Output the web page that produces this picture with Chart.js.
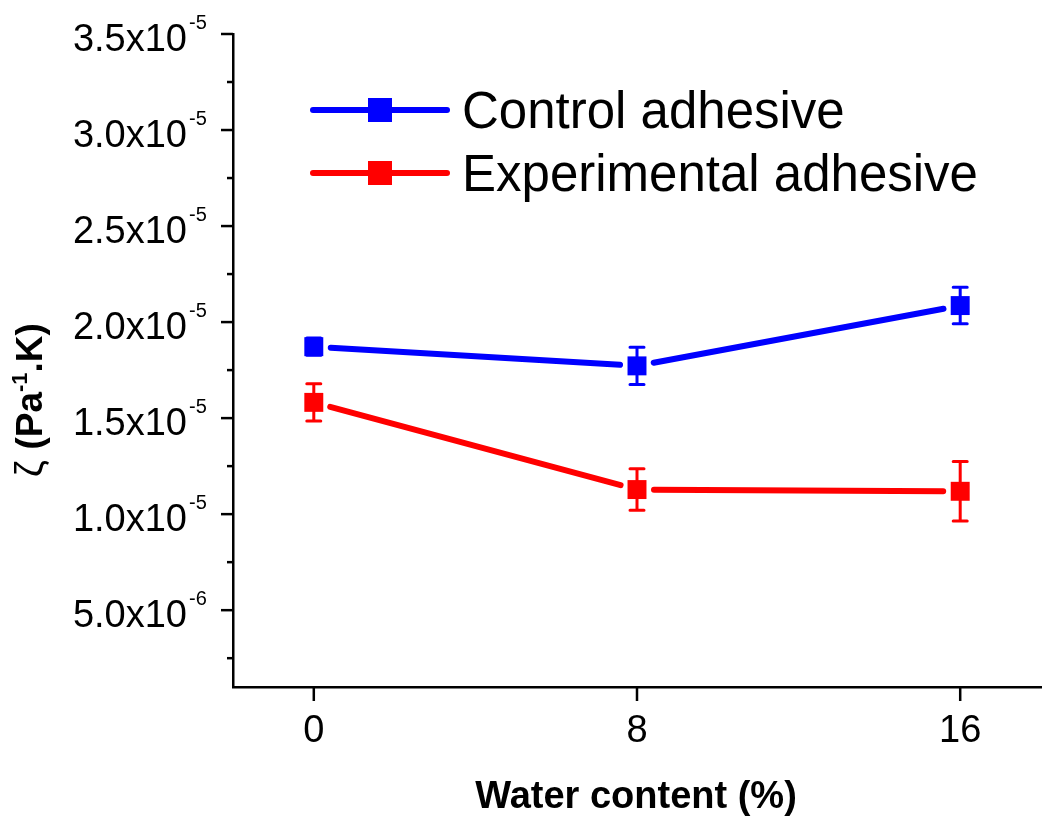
<!DOCTYPE html>
<html>
<head>
<meta charset="utf-8">
<script src="https://cdn.jsdelivr.net/npm/chart.js"></script>
<style>
  body { margin: 0; background: #fff; }
</style>
</head>
<body>
<canvas id="zetaChart" width="1050" height="832"></canvas>
<script>
  // values
  const waterContent = [0, 8, 16];
  const controlZeta = [1.872e-5, 1.772e-5, 2.086e-5];
  const controlErr = [0.045e-5, 0.097e-5, 0.095e-5];
  const experimentalZeta = [1.582e-5, 1.128e-5, 1.119e-5];
  const experimentalErr = [0.097e-5, 0.108e-5, 0.155e-5];
  const seriesNames = ['Control adhesive', 'Experimental adhesive'];
  const seriesColors = ['#0000ff', '#ff0000'];

  // axis ticks
  const xTicks = [0, 8, 16];
  const xTickLabels = ['0', '8', '16'];
  const yTicks = [5e-6, 1e-5, 1.5e-5, 2e-5, 2.5e-5, 3e-5, 3.5e-5];
  const yTickMantissa = ['5.0', '1.0', '1.5', '2.0', '2.5', '3.0', '3.5'];
  const yTickExponent = ['-6', '-5', '-5', '-5', '-5', '-5', '-5'];
  const yMinorTicks = [2.5e-6, 7.5e-6, 1.25e-5, 1.75e-5, 2.25e-5, 2.75e-5, 3.25e-5];

  const errorBars = [controlErr, experimentalErr];
  const FONT = '"Liberation Sans", Arial, sans-serif';

  function toPoints(ys) {
    return waterContent.map((w, i) => ({ x: w, y: ys[i] }));
  }

  // Origin-like look: gapped lines, error bars, ticks, labels, legend
  const originStyle = {
    id: 'originStyle',
    beforeDatasetsDraw(chart) {
      const ctx = chart.ctx;
      const xs = chart.scales.x, ys = chart.scales.y;
      chart.data.datasets.forEach((ds, d) => {
        ctx.save();
        ctx.strokeStyle = ds.borderColor;
        ctx.lineCap = 'round';
        ctx.lineWidth = 6;
        for (let i = 0; i < ds.data.length - 1; i++) {
          const x1 = xs.getPixelForValue(ds.data[i].x), y1 = ys.getPixelForValue(ds.data[i].y);
          const x2 = xs.getPixelForValue(ds.data[i + 1].x), y2 = ys.getPixelForValue(ds.data[i + 1].y);
          const len = Math.hypot(x2 - x1, y2 - y1);
          const ux = (x2 - x1) / len, uy = (y2 - y1) / len;
          const gap = 17;
          ctx.beginPath();
          ctx.moveTo(x1 + ux * gap, y1 + uy * gap);
          ctx.lineTo(x2 - ux * gap, y2 - uy * gap);
          ctx.stroke();
        }
        ctx.lineWidth = 3;
        errorBars[d].forEach((e, i) => {
          const px = xs.getPixelForValue(ds.data[i].x);
          const top = ys.getPixelForValue(ds.data[i].y + e);
          const bot = ys.getPixelForValue(ds.data[i].y - e);
          ctx.beginPath();
          ctx.moveTo(px, top); ctx.lineTo(px, bot);
          ctx.moveTo(px - 7, top); ctx.lineTo(px + 7, top);
          ctx.moveTo(px - 7, bot); ctx.lineTo(px + 7, bot);
          ctx.stroke();
        });
        ctx.restore();
      });
    },
    afterDraw(chart) {
      const ctx = chart.ctx;
      const xs = chart.scales.x, ys = chart.scales.y;
      const area = chart.chartArea;
      ctx.save();
      ctx.strokeStyle = '#000';
      ctx.fillStyle = '#000';
      ctx.lineWidth = 2.5;

      // y ticks
      yTicks.forEach(v => {
        const py = ys.getPixelForValue(v);
        ctx.beginPath(); ctx.moveTo(area.left - 12, py); ctx.lineTo(area.left, py); ctx.stroke();
      });
      yMinorTicks.forEach(v => {
        const py = ys.getPixelForValue(v);
        ctx.beginPath(); ctx.moveTo(area.left - 6, py); ctx.lineTo(area.left, py); ctx.stroke();
      });
      // x ticks
      xTicks.forEach(v => {
        const px = xs.getPixelForValue(v);
        ctx.beginPath(); ctx.moveTo(px, area.bottom); ctx.lineTo(px, area.bottom + 14); ctx.stroke();
      });

      // y tick labels with superscript exponent
      yTicks.forEach((v, i) => {
        const py = ys.getPixelForValue(v);
        ctx.font = '38px ' + FONT;
        ctx.textAlign = 'right';
        ctx.textBaseline = 'alphabetic';
        ctx.fillText(yTickMantissa[i] + 'x10', 187, py + 17);
        ctx.font = '20px ' + FONT;
        ctx.textAlign = 'left';
        ctx.fillText(yTickExponent[i], 189, py - 5.5);
      });

      // x tick labels
      ctx.font = '38px ' + FONT;
      ctx.textAlign = 'center';
      xTicks.forEach((v, i) => {
        ctx.fillText(xTickLabels[i], xs.getPixelForValue(v), 742);
      });

      // x title
      ctx.font = 'bold 38px ' + FONT;
      ctx.fillText('Water content (%)', 636, 808);

      // y title, rotated
      ctx.save();
      ctx.translate(42, 400);
      ctx.rotate(-Math.PI / 2);
      const parts = [
        { t: 'ζ ', f: '38px ' + FONT, dy: 0 },
        { t: '(Pa', f: 'bold 37px ' + FONT, dy: 0 },
        { t: '-1', f: 'bold 22px ' + FONT, dy: -15 },
        { t: '.K)', f: 'bold 37px ' + FONT, dy: 0 }
      ];
      let total = 0;
      parts.forEach(p => { ctx.font = p.f; p.w = ctx.measureText(p.t).width; total += p.w; });
      let cx = -total / 2;
      ctx.textAlign = 'left';
      parts.forEach(p => { ctx.font = p.f; ctx.fillText(p.t, cx, p.dy); cx += p.w; });
      ctx.restore();

      // legend
      const legendY = [110, 173];
      chart.data.datasets.forEach((ds, d) => {
        const ly = legendY[d];
        ctx.strokeStyle = ds.borderColor;
        ctx.fillStyle = ds.borderColor;
        ctx.lineWidth = 6;
        ctx.lineCap = 'round';
        ctx.beginPath(); ctx.moveTo(313, ly); ctx.lineTo(447, ly); ctx.stroke();
        ctx.fillRect(368, ly - 12, 24, 24);
        ctx.fillStyle = '#000';
        ctx.font = '51px ' + FONT;
        ctx.textAlign = 'left';
        ctx.fillText(ds.label, 462, ly + 18);
      });
      ctx.restore();
    }
  };

  const axisBase = {
    type: 'linear',
    ticks: { display: false },
    grid: { display: false, drawTicks: false },
    border: { display: true, color: '#000', width: 2.5 }
  };

  new Chart(document.getElementById('zetaChart').getContext('2d'), {
    type: 'line',
    data: {
      datasets: [
        {
          label: seriesNames[0],
          data: toPoints(controlZeta),
          borderColor: seriesColors[0],
          backgroundColor: seriesColors[0],
          showLine: false,
          pointStyle: 'rect',
          pointRadius: 13.4,
          pointBorderWidth: 0
        },
        {
          label: seriesNames[1],
          data: toPoints(experimentalZeta),
          borderColor: seriesColors[1],
          backgroundColor: seriesColors[1],
          showLine: false,
          pointStyle: 'rect',
          pointRadius: 13.4,
          pointBorderWidth: 0
        }
      ]
    },
    options: {
      responsive: false,
      animation: false,
      events: [],
      layout: { autoPadding: false, padding: { left: 233, right: 9, top: 34, bottom: 145 } },
      plugins: { legend: { display: false }, tooltip: { enabled: false } },
      scales: {
        x: Object.assign({}, axisBase, {
          min: -2, max: 18,
          afterBuildTicks: s => { s.ticks = xTicks.map(v => ({ value: v })); }
        }),
        y: Object.assign({}, axisBase, {
          min: 1e-6, max: 3.5e-5,
          afterBuildTicks: s => { s.ticks = yTicks.map(v => ({ value: v })); }
        })
      }
    },
    plugins: [originStyle]
  });
</script>
</body>
</html>
